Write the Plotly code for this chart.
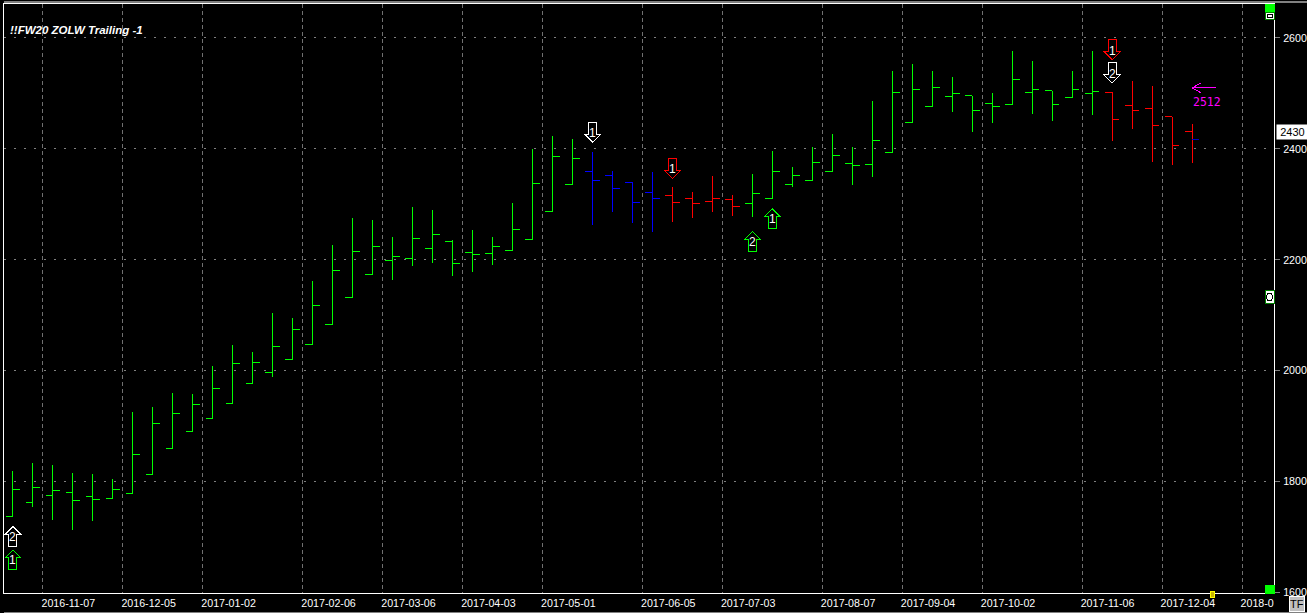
import plotly.graph_objects as go

title_text = "!!FW20 ZOLW Trailing -1"

bar_open = [1737,1763,1775,1781,1773,1770,1779,1813,1860,1890,1914,1941,1977,1997,2020,2047,2083,2132,2173,2199,
            2202,2220,2233,2213,2211,2217,2236,2287,2336,2359,2352,2339,2321,2316,2310,2305,2308,2301,2310,2336,
            2343,2359,2373,2372,2393,2447,2476,2494,2496,2481,2480,2501,2505,2492,2500,2502,2478,2472,2458,2431]
bar_high = [1819,1833,1830,1815,1814,1805,1925,1934,1960,1958,2008,2046,2033,2104,2095,2161,2226,2275,2271,2241,
            2295,2289,2235,2253,2242,2302,2399,2424,2417,2395,2361,2339,2358,2331,2322,2352,2316,2354,2396,2368,
            2403,2426,2403,2487,2540,2554,2540,2529,2496,2500,2576,2558,2505,2540,2576,2502,2522,2513,2458,2445]
bar_low = [1737,1755,1731,1713,1729,1770,1779,1813,1860,1890,1914,1941,1977,1989,2020,2047,2083,2132,2173,2164,
           2189,2194,2171,2178,2191,2217,2236,2287,2336,2262,2287,2266,2251,2269,2275,2286,2279,2277,2310,2331,
           2343,2359,2334,2349,2393,2447,2476,2466,2430,2447,2480,2463,2450,2492,2461,2414,2436,2376,2371,2374]
bar_close = [1786,1790,1784,1766,1768,1786,1849,1905,1923,1939,1968,2013,2015,2044,2074,2117,2181,2215,2224,2206,
             2238,2245,2193,2209,2224,2254,2337,2386,2382,2343,2328,2303,2310,2303,2301,2310,2296,2319,2359,2352,
             2375,2388,2370,2415,2502,2507,2510,2500,2469,2476,2525,2508,2480,2508,2503,2453,2469,2442,2406,2417]

# (first bar, last bar, colour) of each coloured run
runs = [(0, 28, "#00ff00"), (29, 32, "#0000ff"), (33, 36, "#ff0000"), (37, 54, "#00ff00"), (55, 59, "#ff0000")]

tick_bars = [2, 6, 10, 15, 19, 23, 27, 32, 36, 41, 45, 49, 54, 58, 62]
tick_dates = ["2016-11-07","2016-12-05","2017-01-02","2017-02-06","2017-03-06","2017-04-03","2017-05-01",
              "2017-06-05","2017-07-03","2017-08-07","2017-09-04","2017-10-02","2017-11-06","2017-12-04","2018-0"]
price_ticks = [1600, 1800, 2000, 2200, 2400, 2600]
last_price = 2430
stop_price = 2510
stop_label = "2512"

# signal arrows: bar, tip price, direction, colour, digit
signals = [(0, 1719, "up", "#ffffff", "2"), (0, 1677, "up", "#00ff00", "1"),
           (29, 2412, "down", "#ffffff", "1"), (33, 2347, "down", "#ff0000", "1"),
           (37, 2251, "up", "#00ff00", "2"), (38, 2292, "up", "#00ff00", "1"),
           (55, 2561, "down", "#ff0000", "1"), (55, 2519, "down", "#ffffff", "2")]

fig = go.Figure()
for a, b, col in runs:
    idx = list(range(a, b + 1))
    fig.add_trace(go.Ohlc(
        x=idx, open=bar_open[a:b + 1], high=bar_high[a:b + 1], low=bar_low[a:b + 1], close=bar_close[a:b + 1],
        tickwidth=0.365, showlegend=False, hoverinfo="skip",
        increasing=dict(line=dict(color=col, width=1)),
        decreasing=dict(line=dict(color=col, width=1))))

def pix(xa, ya, path, color, fill=None, xref="x", yref="y", width=1):
    s = dict(type="path", xref=xref, yref=yref, xsizemode="pixel", ysizemode="pixel",
             xanchor=xa, yanchor=ya, path=path, line=dict(color=color, width=width), layer="above")
    if fill:
        s["fillcolor"] = fill
    return s

def box(x0, y0, x1, y1):
    return f"M{x0},{y0} L{x1},{y0} L{x1},{y1} L{x0},{y1} Z"

UP = "M0,0 L8,-8 L4,-8 L4,-20 L-4,-20 L-4,-8 L-8,-8 Z"
DOWN = "M0,0 L8,8 L4,8 L4,20 L-4,20 L-4,8 L-8,8 Z"
shapes = []
annotations = []
for bar, tip, d, col, digit in signals:
    shapes.append(pix(bar, tip, UP if d == "up" else DOWN, col))
    annotations.append(dict(x=bar, y=tip, xref="x", yref="y", text=digit, showarrow=False,
                            yshift=-10 if d == "up" else 9, xanchor="center", yanchor="middle",
                            font=dict(family="Liberation Sans", size=12, color="#ffffff")))

# last bar's blue close tick
shapes.append(pix(59, bar_close[59], "M0,0 L7,0", "#0000c0"))
# magenta stop arrow
shapes.append(pix(59, stop_price, "M0,0 L24,0 M0,0 L9,-5 M0,0 L9,5", "#ff00ff"))
annotations.append(dict(x=59, y=stop_price, xref="x", yref="y", text=stop_label, showarrow=False,
                        xshift=-1, yshift=-14, xanchor="left", yanchor="middle",
                        font=dict(family="DejaVu Sans Mono", size=11.5, color="#ff00ff")))
# last price tag
annotations.append(dict(x=1, xref="paper", y=last_price, yref="y", text=str(last_price), showarrow=False,
                        xshift=1.5, xanchor="left", yanchor="middle", bgcolor="#ffffff", borderpad=0, width=31, height=14,
                        align="center", font=dict(family="Liberation Sans", size=11, color="#000000")))
# chart title
annotations.append(dict(x=0, y=1, xref="paper", yref="paper", text="<b><i>" + title_text + "</i></b>", showarrow=False,
                        xshift=4, yshift=-26, xanchor="left", yanchor="middle",
                        font=dict(family="Liberation Sans", size=11.5, color="#ffffff")))

# window furniture: scale handles on the right edge of the plot
shapes.append(pix(1, 1, box(-9, 0, 0, -8), "#00ff00", "#00ff00", "paper", "paper"))
shapes.append(pix(1, 1, box(-9, -8, 0, -15), "#008000", "#ffffff", "paper", "paper"))
shapes.append(pix(1, 1, box(-7, -10, -2, -13), "#000000", "#ffffff", "paper", "paper"))
shapes.append(pix(1, 0.5, box(-9, 8, 0, -5), "#008000", "#ffffff", "paper", "paper"))
shapes.append(pix(1, 0.5, "M-6,-2 L-3,-2 L-1.5,0 L-1.5,3 L-3,5 L-6,5 L-7.5,3 L-7.5,0 Z", "#000000", "#ffffff", "paper", "paper"))
shapes.append(pix(1, 0, box(-9, 8, 0, 0), "#00ff00", "#00ff00", "paper", "paper"))
# yellow end-of-data marker under the axis
shapes.append(pix(60, 0, box(-1.5, 2, 2.5, -4), "#ffff00", "#c8b400", "x", "paper"))
# TF button
shapes.append(pix(1, 0, box(15.5, -3, 30.5, -18), "#ffffff", "#c0c0c0", "paper", "paper"))
annotations.append(dict(x=1, y=0, xref="paper", yref="paper", text="TF", showarrow=False, xshift=23, yshift=-10.5,
                        xanchor="center", yanchor="middle", font=dict(family="Liberation Sans", size=11, color="#000000")))
# grey window edges
shapes.append(pix(0, 0, box(0, -19, 1307, -20), "#808080", "#808080", "paper", "paper"))
shapes.append(pix(0, 1, box(0, 3, 1307, 2), "#808080", "#808080", "paper", "paper"))

fig.update_layout(
    width=1307, height=613, autosize=False,
    margin=dict(l=3.5, r=32.5, t=3.5, b=20, pad=0),
    paper_bgcolor="#000000", plot_bgcolor="#000000",
    shapes=shapes, annotations=annotations, showlegend=False,
    xaxis=dict(range=[-0.45, 63.1], tickmode="array", tickvals=[t - 0.5 for t in tick_bars], ticktext=tick_dates,
               ticklabelposition="outside right", ticklabelshift=-2, ticks="", showgrid=True, gridcolor="#707070", griddash="4px,3px",
               gridwidth=1, zeroline=False, showline=True, linecolor="#ffffff", linewidth=1, mirror=True,
               rangeslider=dict(visible=False), tickangle=0, automargin=False,
               tickfont=dict(family="Liberation Sans", size=10.67, color="#ffffff")),
    yaxis=dict(range=[1599.1, 2661.3], side="right", tickvals=price_ticks, ticks="outside", ticklen=5, tickcolor="#808080",
               showgrid=True, gridcolor="#808080", griddash="2px,8px", gridwidth=1, zeroline=False,
               showline=True, linecolor="#ffffff", linewidth=1, mirror=True, tickformat="d", automargin=False,
               ticklabelstandoff=1, tickfont=dict(family="Liberation Sans", size=10.67, color="#ffffff")),
)

fig.write_html("out.html", config={"displayModeBar": False},
               post_script="document.body.style.margin='0';document.body.style.background='#000';document.body.style.overflow='hidden';"
                           "document.querySelectorAll('.ohlc path, .shapelayer path, .gridlayer path').forEach(function(p){p.style.shapeRendering='crispEdges';});")
